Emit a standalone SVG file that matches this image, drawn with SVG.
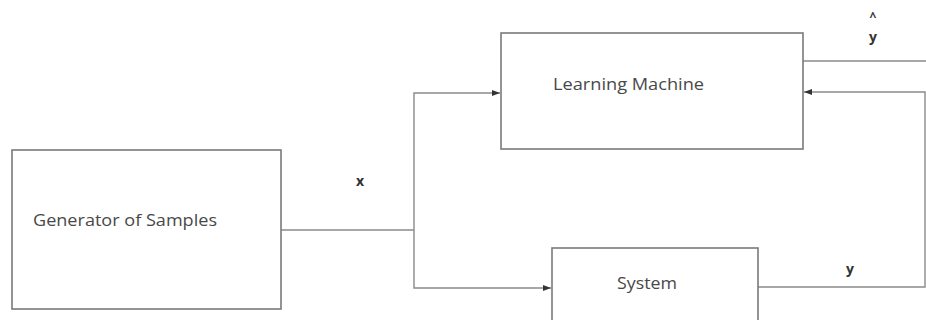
<svg xmlns="http://www.w3.org/2000/svg" width="926" height="320" viewBox="0 0 926 320">
<style>
.box{fill:#fff;stroke:#7a7a7a;stroke-width:1.6}
.ln{fill:none;stroke:#8a8a8a;stroke-width:1.4}
.lbl{font-family:"Open Sans","Noto Sans",sans-serif;font-size:16px;fill:#484848}
.var{font-family:"Open Sans","Noto Sans",sans-serif;font-size:14px;font-weight:bold;fill:#333}
.hat{font-family:"Open Sans","Noto Sans",sans-serif;font-size:12px;font-weight:bold;fill:#333}
</style>
<defs>
<marker id="ah" viewBox="0 0 8 6" refX="8" refY="3" markerWidth="8" markerHeight="6" markerUnits="userSpaceOnUse" orient="auto">
<path d="M0,0 L8,3 L0,6 z" fill="#333"/>
</marker>
</defs>
<rect width="926" height="320" fill="#fff"/>
<g id="connectors">
<path class="ln" d="M281,230 H414"/>
<path class="ln" d="M414,230 V93 H500" marker-end="url(#ah)"/>
<path class="ln" d="M414,230 V288 H551" marker-end="url(#ah)"/>
<path class="ln" d="M803,61 H926"/>
<path class="ln" d="M758,287 H925 V92 H804" marker-end="url(#ah)"/>
<text class="var" x="360" y="186" text-anchor="middle">x</text>
<text class="hat" x="873" y="21" text-anchor="middle">^</text>
<text class="var" x="873" y="42" text-anchor="middle">y</text>
<text class="var" x="850" y="274" text-anchor="middle">y</text>
</g>
<g id="generator">
<rect class="box" x="12" y="150" width="269" height="159"/>
<text class="lbl" x="33" y="226" textLength="184" lengthAdjust="spacingAndGlyphs">Generator of Samples</text>
</g>
<g id="learning-machine">
<rect class="box" x="501" y="33" width="302" height="116"/>
<text class="lbl" x="553" y="90" textLength="151" lengthAdjust="spacingAndGlyphs">Learning Machine</text>
</g>
<g id="system">
<rect class="box" x="552" y="248" width="206" height="80"/>
<text class="lbl" x="617" y="289" textLength="60" lengthAdjust="spacingAndGlyphs">System</text>
</g>
</svg>
